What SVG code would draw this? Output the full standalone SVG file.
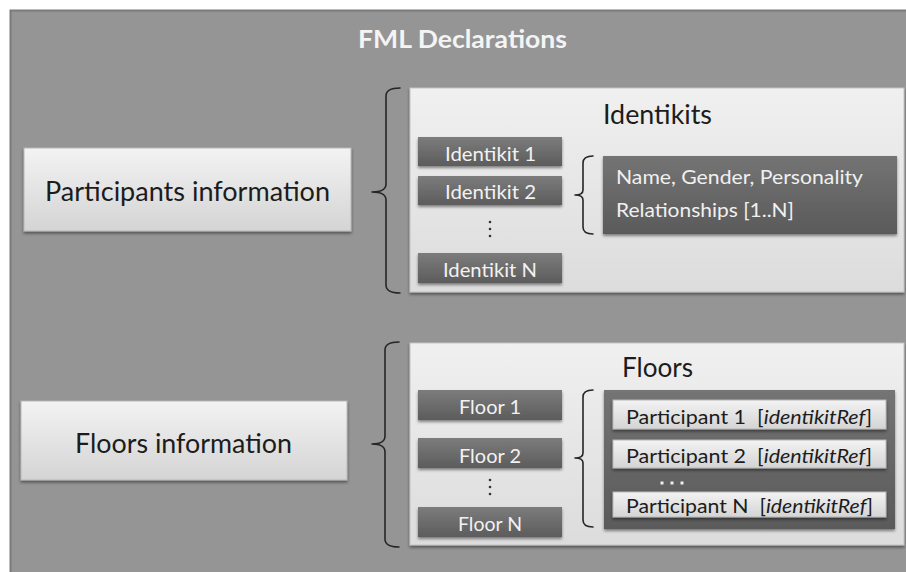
<svg xmlns="http://www.w3.org/2000/svg" width="906" height="572" viewBox="0 0 906 572">
  <style>
    text { font-family: Lato, "Open Sans", "Liberation Sans", sans-serif; }
    .title { font-size: 25px; font-weight: bold; fill: #f4f4f4; }
    .big { font-size: 26px; fill: #1c1c1c; }
    .head { font-size: 27px; fill: #1c1c1c; }
    .item { font-size: 20px; fill: #f2f2f2; }
    .desc { font-size: 20px; fill: #f0f0f0; }
    .part { font-size: 18.5px; fill: #1c1c1c; white-space: pre; }
    .lightbox { fill: url(#gLight); stroke: #b8b8b8; stroke-width: 1; filter: url(#shadow); }
    .panel { fill: url(#gPanel); stroke: #c4c4c4; stroke-width: 1; filter: url(#shadow); }
    .darkbox { fill: url(#gDark); filter: url(#shadow); }
    .container { fill: url(#gContainer); filter: url(#shadow); }
    .brace { fill: none; stroke: #262626; stroke-width: 1.6; stroke-linecap: round; stroke-linejoin: round; }
    .vdot { fill: #333; }
    .hdot { fill: #f0f0f0; }
  </style>
  <defs>
    <linearGradient id="gLight" x1="0" y1="0" x2="0" y2="1">
      <stop offset="0" stop-color="#f3f3f3"/>
      <stop offset="1" stop-color="#d4d4d4"/>
    </linearGradient>
    <linearGradient id="gPanel" x1="0" y1="0" x2="0" y2="1">
      <stop offset="0" stop-color="#f0f0f0"/>
      <stop offset="1" stop-color="#dcdcdc"/>
    </linearGradient>
    <linearGradient id="gDark" x1="0" y1="0" x2="0" y2="1">
      <stop offset="0" stop-color="#7c7c7c"/>
      <stop offset="1" stop-color="#5c5c5c"/>
    </linearGradient>
    <linearGradient id="gContainer" x1="0" y1="0" x2="0" y2="1">
      <stop offset="0" stop-color="#747474"/>
      <stop offset="1" stop-color="#5a5a5a"/>
    </linearGradient>
    <filter id="shadow" x="-5%" y="-10%" width="110%" height="130%">
      <feDropShadow dx="0" dy="2" stdDeviation="1.5" flood-color="#000" flood-opacity="0.45"/>
    </filter>
  </defs>

  <!-- page and outer frame -->
  <rect x="0" y="0" width="906" height="572" fill="#ffffff"/>
  <rect x="10.5" y="10.5" width="910" height="580" fill="#959595" stroke="#7a7a7a" stroke-width="2"/>

  <g id="title">
    <text class="title" x="358" y="48" textLength="209" lengthAdjust="spacingAndGlyphs">FML Declarations</text>
  </g>

  <!-- left column -->
  <g id="participants-information">
    <rect class="lightbox" x="24" y="148" width="327" height="83"/>
    <text class="big" x="45" y="201" textLength="285" lengthAdjust="spacingAndGlyphs">Participants information</text>
  </g>
  <g id="floors-information">
    <rect class="lightbox" x="21" y="401" width="326" height="79"/>
    <text class="big" x="75" y="453" textLength="217" lengthAdjust="spacingAndGlyphs">Floors information</text>
  </g>

  <!-- Identikits panel -->
  <g id="identikits">
    <rect class="panel" x="410" y="88" width="494" height="204"/>
    <text class="head" x="603" y="124" textLength="109" lengthAdjust="spacingAndGlyphs">Identikits</text>
  </g>
  <g id="identikit-1">
    <rect class="darkbox" x="418" y="137" width="144" height="29"/>
    <text class="item" x="445" y="161" textLength="91" lengthAdjust="spacingAndGlyphs">Identikit 1</text>
  </g>
  <g id="identikit-2">
    <rect class="darkbox" x="418" y="176" width="144" height="29"/>
    <text class="item" x="445" y="199" textLength="91" lengthAdjust="spacingAndGlyphs">Identikit 2</text>
  </g>
  <g id="identikit-dots">
    <circle class="vdot" cx="490" cy="222" r="1.3"/>
    <circle class="vdot" cx="490" cy="229" r="1.3"/>
    <circle class="vdot" cx="490" cy="236" r="1.3"/>
  </g>
  <g id="identikit-n">
    <rect class="darkbox" x="418" y="253" width="144" height="30"/>
    <text class="item" x="443" y="277" textLength="94" lengthAdjust="spacingAndGlyphs">Identikit N</text>
  </g>
  <g id="identikit-attributes">
    <rect class="container" x="603" y="156" width="294" height="78"/>
    <text class="desc" x="616" y="184" textLength="247" lengthAdjust="spacingAndGlyphs">Name, Gender, Personality</text>
    <text class="desc" x="616" y="217" textLength="178" lengthAdjust="spacingAndGlyphs">Relationships [1..N]</text>
  </g>

  <!-- Floors panel -->
  <g id="floors">
    <rect class="panel" x="410" y="343" width="494" height="202"/>
    <text class="head" x="622" y="377" textLength="71" lengthAdjust="spacingAndGlyphs">Floors</text>
  </g>
  <g id="floor-1">
    <rect class="darkbox" x="418" y="390" width="144" height="30"/>
    <text class="item" x="459" y="414" textLength="62" lengthAdjust="spacingAndGlyphs">Floor 1</text>
  </g>
  <g id="floor-2">
    <rect class="darkbox" x="418" y="438" width="144" height="30"/>
    <text class="item" x="459" y="463" textLength="62" lengthAdjust="spacingAndGlyphs">Floor 2</text>
  </g>
  <g id="floor-dots">
    <circle class="vdot" cx="490" cy="480" r="1.3"/>
    <circle class="vdot" cx="490" cy="487" r="1.3"/>
    <circle class="vdot" cx="490" cy="494" r="1.3"/>
  </g>
  <g id="floor-n">
    <rect class="darkbox" x="418" y="507" width="144" height="30"/>
    <text class="item" x="458" y="531" textLength="64" lengthAdjust="spacingAndGlyphs">Floor N</text>
  </g>
  <g id="participants">
    <rect class="container" x="604" y="390" width="291" height="139"/>
  </g>
  <g id="participant-1">
    <rect class="lightbox" x="613" y="400" width="273" height="29"/>
    <text class="part" x="626" y="424" textLength="246" lengthAdjust="spacingAndGlyphs" xml:space="preserve">Participant 1  [<tspan font-style="italic">identikitRef</tspan>]</text>
  </g>
  <g id="participant-2">
    <rect class="lightbox" x="613" y="440" width="273" height="28"/>
    <text class="part" x="626" y="463" textLength="246" lengthAdjust="spacingAndGlyphs" xml:space="preserve">Participant 2  [<tspan font-style="italic">identikitRef</tspan>]</text>
  </g>
  <g id="participant-dots">
    <rect class="hdot" x="660.5" y="481.5" width="3" height="3"/>
    <rect class="hdot" x="670.5" y="481.5" width="3" height="3"/>
    <rect class="hdot" x="680.5" y="481.5" width="3" height="3"/>
  </g>
  <g id="participant-n">
    <rect class="lightbox" x="613" y="492" width="273" height="25"/>
    <text class="part" x="626" y="513" textLength="247" lengthAdjust="spacingAndGlyphs" xml:space="preserve">Participant N  [<tspan font-style="italic">identikitRef</tspan>]</text>
  </g>

  <!-- braces linking each part to its contents -->
  <g id="connectors">
    <path class="brace" d="M400,88 Q386,88 386,96 L386,184 Q386,192 372,192 Q386,192 386,200 L386,285 Q386,293 400,293"/>
    <path class="brace" d="M593,156 Q583,156 583,163 L583,190 Q583,195 575,195 Q583,195 583,200 L583,227 Q583,234 593,234"/>
    <path class="brace" d="M399,342 Q385,342 385,350 L385,436 Q385,444 372,444 Q385,444 385,452 L385,539 Q385,547 399,547"/>
    <path class="brace" d="M593,390 Q583,390 583,397 L583,453 Q583,458 575,458 Q583,458 583,463 L583,520 Q583,527 593,527"/>
  </g>
</svg>
